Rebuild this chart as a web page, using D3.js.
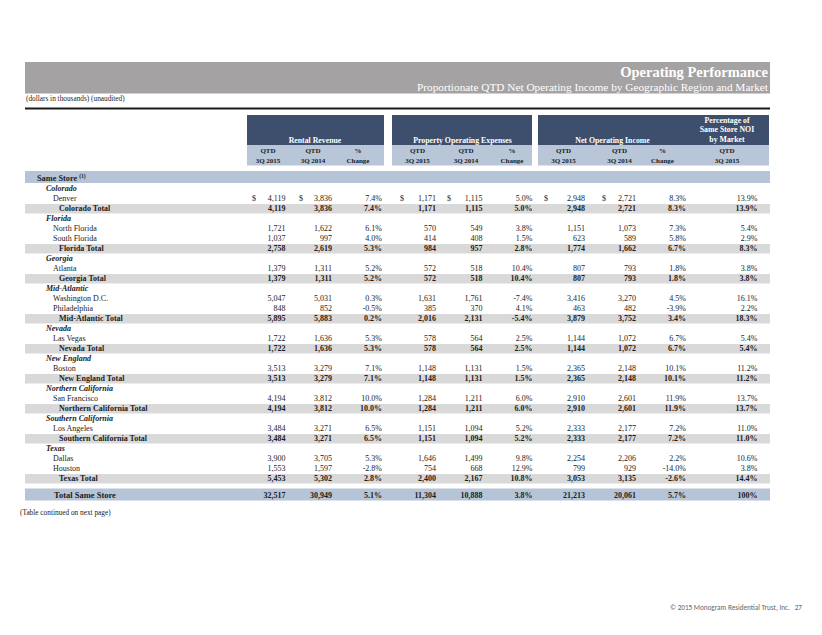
<!DOCTYPE html>
<html><head><meta charset="utf-8">
<script src="https://cdn.jsdelivr.net/npm/d3@7"></script>
<style>
html,body{margin:0;padding:0;background:#fff;}
svg{display:block;font-family:"Liberation Serif","Times New Roman",serif;}
</style></head>
<body>
<script>
// ---------------- DATA ----------------
const title = "Operating Performance";
const subtitle = "Proportionate QTD Net Operating Income by Geographic Region and Market";
const note = "(dollars in thousands) (unaudited)";
const groupHeaders = ["Rental Revenue", "Property Operating Expenses", "Net Operating Income"];
const shareHeader = ["Percentage of", "Same Store NOI", "by Market"];
const subHeadTop = ["QTD", "QTD", "%", "QTD", "QTD", "%", "QTD", "QTD", "%", "QTD"];
const subHeadBottom = ["3Q 2015", "3Q 2014", "Change", "3Q 2015", "3Q 2014", "Change", "3Q 2015", "3Q 2014", "Change", "3Q 2015"];

const regions = ["Colorado", "Florida", "Georgia", "Mid-Atlantic", "Nevada", "New England",
  "Northern California", "Southern California", "Texas"];
const markets = ["Denver", "North Florida", "South Florida", "Atlanta", "Washington D.C.", "Philadelphia",
  "Las Vegas", "Boston", "San Francisco", "Los Angeles", "Dallas", "Houston"];
const marketRegion = [0, 1, 1, 2, 3, 3, 4, 5, 6, 7, 8, 8];

// market rows
const rr2015 = [4119, 1721, 1037, 1379, 5047, 848, 1722, 3513, 4194, 3484, 3900, 1553];
const rr2014 = [3836, 1622, 997, 1311, 5031, 852, 1636, 3279, 3812, 3271, 3705, 1597];
const rrChg = [7.4, 6.1, 4.0, 5.2, 0.3, -0.5, 5.3, 7.1, 10.0, 6.5, 5.3, -2.8];
const poe2015 = [1171, 570, 414, 572, 1631, 385, 578, 1148, 1284, 1151, 1646, 754];
const poe2014 = [1115, 549, 408, 518, 1761, 370, 564, 1131, 1211, 1094, 1499, 668];
const poeChg = [5.0, 3.8, 1.5, 10.4, -7.4, 4.1, 2.5, 1.5, 6.0, 5.2, 9.8, 12.9];
const noi2015 = [2948, 1151, 623, 807, 3416, 463, 1144, 2365, 2910, 2333, 2254, 799];
const noi2014 = [2721, 1073, 589, 793, 3270, 482, 1072, 2148, 2601, 2177, 2206, 929];
const noiChg = [8.3, 7.3, 5.8, 1.8, 4.5, -3.9, 6.7, 10.1, 11.9, 7.2, 2.2, -14.0];
const noiShare = [13.9, 5.4, 2.9, 3.8, 16.1, 2.2, 5.4, 11.2, 13.7, 11.0, 10.6, 3.8];

// region total rows
const totRr2015 = [4119, 2758, 1379, 5895, 1722, 3513, 4194, 3484, 5453];
const totRr2014 = [3836, 2619, 1311, 5883, 1636, 3279, 3812, 3271, 5302];
const totRrChg = [7.4, 5.3, 5.2, 0.2, 5.3, 7.1, 10.0, 6.5, 2.8];
const totPoe2015 = [1171, 984, 572, 2016, 578, 1148, 1284, 1151, 2400];
const totPoe2014 = [1115, 957, 518, 2131, 564, 1131, 1211, 1094, 2167];
const totPoeChg = [5.0, 2.8, 10.4, -5.4, 2.5, 1.5, 6.0, 5.2, 10.8];
const totNoi2015 = [2948, 1774, 807, 3879, 1144, 2365, 2910, 2333, 3053];
const totNoi2014 = [2721, 1662, 793, 3752, 1072, 2148, 2601, 2177, 3135];
const totNoiChg = [8.3, 6.7, 1.8, 3.4, 6.7, 10.1, 11.9, 7.2, -2.6];
const totNoiShare = [13.9, 8.3, 3.8, 18.3, 5.4, 11.2, 13.7, 11.0, 14.4];

// grand total
const grandLabel = "Total Same Store";
const grand = [32517, 30949, 5.1, 11304, 10888, 3.8, 21213, 20061, 5.7, 100];

// ---------------- BUILD ROWS ----------------
const colKinds = ["n", "n", "p", "n", "n", "p", "n", "n", "p", "s"];
function marketVals(i) {
  return [rr2015[i], rr2014[i], rrChg[i], poe2015[i], poe2014[i], poeChg[i], noi2015[i], noi2014[i], noiChg[i], noiShare[i]];
}
function totalVals(r) {
  return [totRr2015[r], totRr2014[r], totRrChg[r], totPoe2015[r], totPoe2014[r], totPoeChg[r], totNoi2015[r], totNoi2014[r], totNoiChg[r], totNoiShare[r]];
}
const rows = [];
regions.forEach((reg, r) => {
  rows.push({type: "region", label: reg});
  markets.forEach((m, i) => { if (marketRegion[i] === r) rows.push({type: "market", label: m, vals: marketVals(i), first: i === 0}); });
  rows.push({type: "total", label: reg + " Total", vals: totalVals(r)});
});

// ---------------- DRAW ----------------
const W = 822, H = 635;
const svg = d3.select("body").append("svg").attr("width", W).attr("height", H);

const left = 25, right = 770;
const ink = "#1c1c1c";

// title band
svg.append("rect").attr("x", left).attr("y", 62).attr("width", right - left).attr("height", 31.5).attr("fill", "#a4a2a2");
svg.append("text").attr("x", 768).attr("y", 76.5).attr("text-anchor", "end")
  .attr("font-size", 14.5).attr("font-weight", "bold").attr("fill", "#fff").text(title);
svg.append("text").attr("x", 768).attr("y", 90.5).attr("text-anchor", "end")
  .attr("font-size", 11.3).attr("fill", "#fff").text(subtitle);
svg.append("text").attr("x", 26).attr("y", 101).attr("font-size", 7.3).attr("fill", ink).text(note);
svg.append("line").attr("x1", left).attr("x2", right).attr("y1", 108.5).attr("y2", 108.5)
  .attr("stroke", "#1a1a1a").attr("stroke-width", 2.2);

// header boxes
const boxes = [[247, 384], [392, 532], [538, 769]];
const darkTop = 115, darkBot = 145, lightBot = 165.5;
const darkCol = "#3d4f6d", lightCol = "#b8c6d8";
boxes.forEach(b => {
  svg.append("rect").attr("x", b[0]).attr("y", darkTop).attr("width", b[1] - b[0]).attr("height", darkBot - darkTop).attr("fill", darkCol);
  svg.append("rect").attr("x", b[0]).attr("y", darkBot).attr("width", b[1] - b[0]).attr("height", lightBot - darkBot).attr("fill", lightCol);
});
const groupCenters = [315, 462.5, 612.5];
groupHeaders.forEach((g, i) => {
  svg.append("text").attr("x", groupCenters[i]).attr("y", 142.5).attr("text-anchor", "middle")
    .attr("font-size", 7.8).attr("font-weight", "bold").attr("fill", "#fff").text(g);
});
shareHeader.forEach((s, i) => {
  svg.append("text").attr("x", 727).attr("y", 123 + i * 9.3).attr("text-anchor", "middle")
    .attr("font-size", 7.8).attr("font-weight", "bold").attr("fill", "#fff").text(s);
});
const subCenters = [268, 313, 358, 417.5, 466, 512, 563.5, 619.5, 662.5, 727];
subCenters.forEach((cx, i) => {
  svg.append("text").attr("x", cx).attr("y", 152.8).attr("text-anchor", "middle")
    .attr("font-size", 7).attr("font-weight", "bold").attr("fill", ink).text(subHeadTop[i]);
  svg.append("text").attr("x", cx).attr("y", 162.8).attr("text-anchor", "middle")
    .attr("font-size", 7).attr("font-weight", "bold").attr("fill", ink).text(subHeadBottom[i]);
});

// same store band
const bandBlue = "#b5c4d7";
svg.append("rect").attr("x", left).attr("y", 171).attr("width", right - left).attr("height", 12).attr("fill", bandBlue);
const ss = svg.append("text").attr("x", 37).attr("y", 180.5).attr("font-size", 8.3).attr("font-weight", "bold").attr("fill", ink);
ss.append("tspan").text("Same Store ");
ss.append("tspan").attr("font-size", 5.5).attr("dy", -3).text("(1)");

// scales
const y = d3.scaleLinear().domain([0, 1]).range([188.5, 198.5]); // row index -> center
const colRight = d3.scaleOrdinal().domain(d3.range(10)).range([285.5, 332, 382, 436, 482.5, 532.5, 585, 636, 686, 757.5]);
const dollarX = d3.scaleOrdinal().domain([0, 1, 3, 4, 6, 7]).range([252, 299, 400, 447, 544, 602]);

const fmtN = d3.format(",");
const fmtP = v => v.toFixed(1) + "%";
function fmt(v, k) { return k === "n" ? fmtN(v) : fmtP(v); }

rows.forEach((row, i) => {
  const cy = y(i);
  const base = cy + 2.8;
  if (row.type === "total") {
    svg.append("rect").attr("x", left).attr("y", cy - 4.5).attr("width", right - left).attr("height", 9.5).attr("fill", "#d9d9d9");
  }
  const lx = row.type === "region" ? 46 : row.type === "market" ? 53 : 59;
  svg.append("text").attr("x", lx).attr("y", base).attr("font-size", 8).attr("fill", ink)
    .attr("font-weight", row.type === "market" ? "normal" : "bold")
    .attr("font-style", row.type === "region" ? "italic" : "normal")
    .text(row.label);
  if (row.vals) {
    row.vals.forEach((v, c) => {
      svg.append("text").attr("x", colRight(c)).attr("y", base).attr("text-anchor", "end")
        .attr("font-size", 8).attr("font-weight", row.type === "total" ? "bold" : "normal").attr("fill", ink)
        .text(fmt(v, colKinds[c]));
    });
    if (row.first) {
      [0, 1, 3, 4, 6, 7].forEach(c => {
        svg.append("text").attr("x", dollarX(c)).attr("y", base).attr("font-size", 8).attr("fill", ink).text("$");
      });
    }
  }
});

// grand total
const gy = 494.5;
svg.append("rect").attr("x", left).attr("y", gy - 6).attr("width", right - left).attr("height", 12).attr("fill", bandBlue);
svg.append("text").attr("x", 54).attr("y", gy + 3).attr("font-size", 8.5).attr("font-weight", "bold").attr("fill", ink).text(grandLabel);
grand.forEach((v, c) => {
  svg.append("text").attr("x", colRight(c)).attr("y", gy + 3).attr("text-anchor", "end")
    .attr("font-size", 8).attr("font-weight", "bold").attr("fill", ink)
    .text(c === 9 ? v + "%" : fmt(v, colKinds[c]));
});

svg.append("text").attr("x", 20).attr("y", 515).attr("font-size", 7.3).attr("fill", ink).text("(Table continued on next page)");

// footer
svg.append("text").attr("x", 802).attr("y", 609.5).attr("text-anchor", "end")
  .style("font-family", "Carlito, 'Open Sans', 'Liberation Sans', sans-serif").attr("font-size", 7.2).attr("fill", "#666")
  .text("\u00A9 2015 Monogram Residential Trust, Inc.\u00A0\u00A0 27");
</script>
</body></html>
